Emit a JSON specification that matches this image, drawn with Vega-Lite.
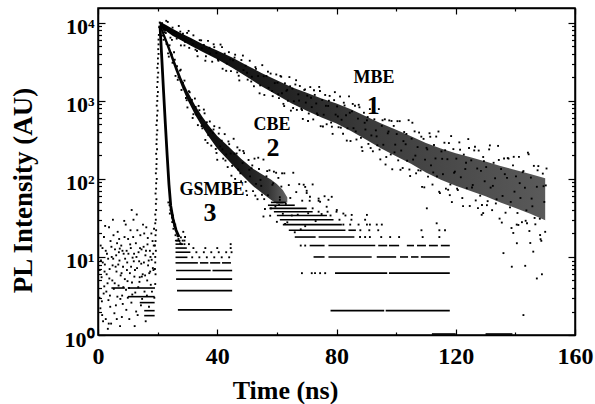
{
  "$schema": "https://vega.github.io/schema/vega-lite/v6.json",
  "width": 477,
  "height": 327,
  "autosize": "none",
  "padding": {"left": 98, "top": 8, "right": 20, "bottom": 69},
  "background": "white",
  "config": {
    "view": {"stroke": "black", "strokeWidth": 1.5},
    "axis": {"labelFont": "Liberation Serif", "labelFontWeight": "bold", "titleFont": "Liberation Serif", "titleFontWeight": "bold", "domainColor": "black", "tickColor": "black", "labelColor": "black", "titleColor": "black", "grid": false, "domainWidth": 1.5, "tickWidth": 1.2}
  },
  "datasets": {
    "band1": [{"t":20.8,"lo":8700,"hi":10300},{"t":23,"lo":7762,"hi":9333},{"t":25,"lo":6839,"hi":8414},{"t":28,"lo":5957,"hi":7328},{"t":31,"lo":5129,"hi":6457},{"t":35,"lo":4266,"hi":5370},{"t":40,"lo":3428,"hi":4416},{"t":45,"lo":2661,"hi":3589},{"t":50,"lo":2018,"hi":2851},{"t":55,"lo":1531,"hi":2265},{"t":60,"lo":1189,"hi":1841},{"t":65,"lo":923,"hi":1496},{"t":70,"lo":750,"hi":1274},{"t":75,"lo":614,"hi":1076},{"t":80,"lo":515,"hi":929},{"t":85,"lo":409,"hi":773},{"t":90,"lo":317,"hi":630},{"t":95,"lo":245,"hi":513},{"t":100,"lo":195,"hi":426},{"t":105,"lo":156,"hi":353},{"t":110,"lo":121,"hi":288},{"t":115,"lo":97.7,"hi":245},{"t":120,"lo":81.5,"hi":213},{"t":125,"lo":69.8,"hi":189},{"t":130,"lo":59.8,"hi":167},{"t":135,"lo":49.8,"hi":146},{"t":140,"lo":42.4,"hi":130},{"t":145,"lo":35.8,"hi":116},{"t":150,"lo":29.5,"hi":102}],
    "band2": [{"t":20.8,"lo":8700,"hi":10300},{"t":22,"lo":6457,"hi":7762},{"t":23.6,"lo":4416,"hi":5433},{"t":26,"lo":2455,"hi":3090},{"t":28,"lo":1549,"hi":1950},{"t":30,"lo":1035,"hi":1334},{"t":32.6,"lo":661,"hi":871},{"t":35,"lo":462,"hi":624},{"t":37,"lo":355,"hi":490},{"t":40,"lo":245,"hi":355},{"t":43.7,"lo":174,"hi":263},{"t":48,"lo":115,"hi":182},{"t":52,"lo":81,"hi":135},{"t":55,"lo":66,"hi":115},{"t":58,"lo":54,"hi":98},{"t":60,"lo":48,"hi":86},{"t":62,"lo":48,"hi":72},{"t":63.5,"lo":50,"hi":58}],
    "c3": [{"t":20.8,"v":9300},{"t":21.4,"v":3500},{"t":22.0,"v":1300},{"t":22.6,"v":500},{"t":23.2,"v":200},{"t":23.8,"v":85},{"t":24.4,"v":45},{"t":25.2,"v":30},{"t":26.2,"v":22},{"t":27.2,"v":18}],
    "labels": [{"t":92.6,"v":1970,"text":"MBE","kind":"name"},{"t":92.3,"v":860,"text":"1","kind":"num"},{"t":58.4,"v":490,"text":"CBE","kind":"name"},{"t":58.7,"v":250,"text":"2","kind":"num"},{"t":38.2,"v":72,"text":"GSMBE","kind":"name"},{"t":37.6,"v":37,"text":"3","kind":"num"}],
    "segs": [
      {"t":26.8,"t2":45,"v":2.1},{"t":26.5,"t2":45,"v":3.7},{"t":26.2,"t2":45,"v":5.2},{"t":26.2,"t2":37.8,"v":6.7},{"t":38.4,"t2":45,"v":6.7},
      {"t":26,"t2":33.5,"v":8.4},{"t":34.2,"t2":37,"v":8.4},{"t":37.6,"t2":41,"v":8.4},{"t":41.6,"t2":44.6,"v":8.4},
      {"t":26,"t2":30,"v":9.9},{"t":26,"t2":31,"v":11.5},{"t":26,"t2":29.8,"v":13},{"t":26,"t2":28.5,"v":14.6},{"t":25.8,"t2":27.6,"v":16.2},
      {"t":78,"t2":96,"v":2.05},{"t":96.5,"t2":118,"v":2.05},
      {"t":79.5,"t2":97,"v":6.2},{"t":97.6,"t2":118,"v":6.2},
      {"t":72.3,"t2":76,"v":10},{"t":77.3,"t2":91.8,"v":10},{"t":93.5,"t2":100,"v":10},{"t":101.3,"t2":104,"v":10},{"t":105,"t2":107.5,"v":10},{"t":108.3,"t2":118,"v":10},
      {"t":71,"t2":76,"v":14},{"t":77.3,"t2":93,"v":14},{"t":94,"t2":97,"v":14},{"t":97.6,"t2":101,"v":14},{"t":103.6,"t2":106,"v":14},{"t":107,"t2":110,"v":14},{"t":111,"t2":114,"v":14},{"t":115,"t2":118,"v":14},
      {"t":66,"t2":73,"v":18},{"t":74,"t2":86,"v":18},
      {"t":64,"t2":83,"v":22},{"t":84,"t2":86.5,"v":22},
      {"t":62,"t2":81.8,"v":26},{"t":61,"t2":79,"v":30},{"t":60,"t2":76.8,"v":34},{"t":59,"t2":72,"v":38},{"t":57.5,"t2":70,"v":42},{"t":57,"t2":66,"v":46},{"t":58,"t2":63,"v":50},
      {"t":4.5,"t2":9,"v":4.0},{"t":10,"t2":19.1,"v":4.0},{"t":10,"t2":19,"v":3.1},{"t":14,"t2":19,"v":2.6},{"t":15.5,"t2":19,"v":2.05},{"t":15.5,"t2":19,"v":1.77},
      {"t":112,"t2":120,"v":1.03},{"t":130,"t2":139,"v":1.03}
    ],
    "pts": [
      {"t":21.5,"v":9910},{"t":22.2,"v":7590},{"t":22.9,"v":10620},{"t":23.6,"v":7830},{"t":24.3,"v":6457},{"t":25.0,"v":8690},{"t":25.7,"v":7570},{"t":26.4,"v":6280},{"t":27.1,"v":9120},{"t":27.8,"v":5140},{"t":28.5,"v":7240},{"t":29.2,"v":5730},{"t":29.9,"v":7430},{"t":30.6,"v":4780},{"t":31.3,"v":6050},{"t":32.0,"v":6920},{"t":32.7,"v":4530},{"t":33.4,"v":3730},{"t":34.1,"v":6000},{"t":34.8,"v":4720},{"t":35.5,"v":5220},{"t":36.2,"v":3730},{"t":36.9,"v":5870},{"t":37.6,"v":4040},{"t":38.3,"v":3180},{"t":39.0,"v":4880},{"t":39.7,"v":4100},{"t":40.4,"v":3270},{"t":41.1,"v":5270},{"t":41.8,"v":2580},{"t":42.5,"v":4030},{"t":43.2,"v":3010},{"t":43.9,"v":4210},{"t":44.6,"v":2410},{"t":45.3,"v":3320},{"t":46.0,"v":3910},{"t":46.7,"v":2320},{"t":47.4,"v":1830},{"t":48.1,"v":3340},{"t":48.8,"v":2480},{"t":49.5,"v":2820},{"t":50.2,"v":1870},{"t":50.9,"v":3270},{"t":51.6,"v":2040},{"t":52.3,"v":1540},{"t":53.0,"v":2570},{"t":53.7,"v":2080},{"t":54.4,"v":1580},{"t":55.1,"v":2870},{"t":55.8,"v":1190},{"t":56.5,"v":2080},{"t":57.2,"v":1470},{"t":57.9,"v":2240},{"t":58.6,"v":1150},{"t":59.3,"v":1690},
      {"t":22.0,"v":8110},{"t":23.4,"v":10280},{"t":24.8,"v":6050},{"t":26.2,"v":7570},{"t":27.6,"v":7730},{"t":29.0,"v":5140},{"t":30.4,"v":7890},{"t":31.8,"v":5360},{"t":33.2,"v":4360},{"t":34.6,"v":5970},{"t":36.0,"v":3270},{"t":37.4,"v":4800},{"t":38.8,"v":5310},{"t":40.2,"v":3380},{"t":41.6,"v":4880},{"t":43.0,"v":2430},{"t":44.4,"v":3410},{"t":45.8,"v":3590},{"t":47.2,"v":2100},{"t":48.6,"v":3810},{"t":50.0,"v":2290},{"t":51.4,"v":1770},{"t":52.8,"v":2710},{"t":54.2,"v":1250},{"t":55.6,"v":2070},{"t":57.0,"v":2370},{"t":58.4,"v":1340},{"t":59.8,"v":2180},
      {"t":60.2,"v":1710},{"t":60.7,"v":1086},{"t":61.2,"v":2084},{"t":61.7,"v":1253},{"t":62.2,"v":916},{"t":62.7,"v":1679},{"t":63.2,"v":1346},{"t":63.7,"v":1005},{"t":64.2,"v":2018},{"t":64.7,"v":750},{"t":65.2,"v":1439},{"t":65.7,"v":989},{"t":66.2,"v":1622},{"t":66.7,"v":767},{"t":67.2,"v":1213},{"t":67.7,"v":1552},{"t":68.2,"v":789},{"t":68.7,"v":587},{"t":69.2,"v":1380},{"t":69.7,"v":951},
      {"t":70.2,"v":1167},{"t":70.7,"v":689},{"t":71.2,"v":1503},{"t":71.7,"v":832},{"t":72.2,"v":579},{"t":72.7,"v":1194},{"t":73.2,"v":927},{"t":73.7,"v":661},{"t":74.2,"v":1510},{"t":74.7,"v":474},{"t":75.2,"v":1028},{"t":75.7,"v":665},{"t":76.2,"v":1191},{"t":76.7,"v":502},{"t":77.2,"v":861},{"t":77.7,"v":1159},{"t":78.2,"v":528},{"t":78.7,"v":378},{"t":79.2,"v":1023},{"t":79.7,"v":667},
      {"t":80.2,"v":849},{"t":80.7,"v":460},{"t":81.2,"v":1138},{"t":81.7,"v":573},{"t":82.2,"v":379},{"t":82.7,"v":873},{"t":83.2,"v":655},{"t":83.7,"v":445},{"t":84.2,"v":1143},{"t":84.7,"v":306},{"t":85.2,"v":733},{"t":85.7,"v":447},{"t":86.2,"v":865},{"t":86.7,"v":320},{"t":87.2,"v":593},{"t":87.7,"v":828},{"t":88.2,"v":336},{"t":88.7,"v":228},{"t":89.2,"v":705},{"t":89.7,"v":430},
      {"t":90.2,"v":564},{"t":90.7,"v":281},{"t":91.2,"v":785},{"t":91.7,"v":361},{"t":92.2,"v":226},{"t":92.7,"v":581},{"t":93.2,"v":419},{"t":93.7,"v":270},{"t":94.2,"v":785},{"t":94.7,"v":178},{"t":95.2,"v":479},{"t":95.7,"v":274},{"t":96.2,"v":581},{"t":96.7,"v":191},{"t":97.2,"v":384},{"t":97.7,"v":562},{"t":98.2,"v":206},{"t":98.7,"v":133},{"t":99.2,"v":478},{"t":99.7,"v":275},
      {"t":100.2,"v":376},{"t":100.7,"v":173},{"t":101.2,"v":550},{"t":101.7,"v":231},{"t":102.2,"v":138},{"t":102.7,"v":399},{"t":103.2,"v":278},{"t":103.7,"v":171},{"t":104.2,"v":566},{"t":104.7,"v":109},{"t":105.2,"v":328},{"t":105.7,"v":177},{"t":106.2,"v":407},{"t":106.7,"v":118},{"t":107.2,"v":256},{"t":107.7,"v":393},{"t":108.2,"v":128},{"t":108.7,"v":79.1},{"t":109.2,"v":326},{"t":109.7,"v":177},
      {"t":110.2,"v":250},{"t":110.7,"v":107},{"t":111.2,"v":385},{"t":111.7,"v":149},{"t":112.2,"v":84.7},{"t":112.7,"v":272},{"t":113.2,"v":183},{"t":113.7,"v":108},{"t":114.2,"v":405},{"t":114.7,"v":65.9},{"t":115.2,"v":225},{"t":115.7,"v":115},{"t":116.2,"v":291},{"t":116.7,"v":75},{"t":117.2,"v":179},{"t":117.7,"v":288},{"t":118.2,"v":84.9},{"t":118.7,"v":50.5},{"t":119.2,"v":241},{"t":119.7,"v":124},
      {"t":120.2,"v":182},{"t":120.7,"v":72.1},{"t":121.2,"v":294},{"t":121.7,"v":105},{"t":122.2,"v":56.9},{"t":122.7,"v":205},{"t":123.2,"v":134},{"t":123.7,"v":76},{"t":124.2,"v":324},{"t":124.7,"v":45},{"t":125.2,"v":173},{"t":125.7,"v":83.6},{"t":126.2,"v":232},{"t":126.7,"v":53},{"t":127.2,"v":136},{"t":127.7,"v":231},{"t":128.2,"v":61},{"t":128.7,"v":34.7},{"t":129.2,"v":191},{"t":129.7,"v":93.3},
      {"t":130.2,"v":142},{"t":130.7,"v":51.9},{"t":131.2,"v":239},{"t":131.7,"v":77.4},{"t":132.2,"v":39.8},{"t":132.7,"v":161},{"t":133.2,"v":102},{"t":133.7,"v":54.8},{"t":134.2,"v":265},{"t":134.7,"v":31},{"t":135.2,"v":134},{"t":135.7,"v":60.5},{"t":136.2,"v":183},{"t":136.7,"v":36.9},{"t":137.2,"v":103},{"t":137.7,"v":182},{"t":138.2,"v":43.2},{"t":138.7,"v":23.5},{"t":139.2,"v":149},{"t":139.7,"v":68.7},
      {"t":140.2,"v":108},{"t":140.7,"v":36.6},{"t":141.2,"v":192},{"t":141.7,"v":57},{"t":142.2,"v":27.9},{"t":142.7,"v":126},{"t":143.2,"v":77.1},{"t":143.7,"v":39.5},{"t":144.2,"v":217},{"t":144.7,"v":21.5},{"t":145.2,"v":104},{"t":145.7,"v":44.6},{"t":146.2,"v":147},{"t":146.7,"v":26.2},{"t":147.2,"v":79.3},{"t":147.7,"v":146},{"t":148.2,"v":30.9},{"t":148.7,"v":16.1},{"t":149.2,"v":117},{"t":149.7,"v":50.7},{"t":150.2,"v":82.6},
      {"t":60.45,"v":1216},{"t":61.45,"v":2042},{"t":62.45,"v":859},{"t":63.45,"v":1384},{"t":64.45,"v":1538},{"t":65.45,"v":811},{"t":66.45,"v":1841},{"t":67.45,"v":1009},{"t":68.45,"v":762},{"t":69.45,"v":1406},{"t":70.45,"v":553},{"t":71.45,"v":1099},{"t":72.45,"v":1368},{"t":73.45,"v":692},{"t":74.45,"v":1337},{"t":75.45,"v":470},{"t":76.45,"v":865},{"t":77.45,"v":1005},{"t":78.45,"v":467},{"t":79.45,"v":1294},{"t":80.45,"v":632},{"t":81.45,"v":454},{"t":82.45,"v":948},{"t":83.45,"v":310},{"t":84.45,"v":705},{"t":85.45,"v":914},{"t":86.45,"v":406},{"t":87.45,"v":891},{"t":88.45,"v":255},{"t":89.45,"v":524},{"t":90.45,"v":621},{"t":91.45,"v":249},{"t":92.45,"v":818},{"t":93.45,"v":351},{"t":94.45,"v":238},{"t":95.45,"v":565},{"t":96.45,"v":153},{"t":97.45,"v":405},{"t":98.45,"v":553},{"t":99.45,"v":219},{"t":100.45,"v":550},{"t":101.45,"v":131},{"t":102.45,"v":305},{"t":103.45,"v":377},{"t":104.45,"v":132},{"t":105.45,"v":525},{"t":106.45,"v":199},{"t":107.45,"v":129},{"t":108.45,"v":348},{"t":109.45,"v":78},{"t":110.45,"v":239},{"t":111.45,"v":347},{"t":112.45,"v":121},{"t":113.45,"v":349},{"t":114.45,"v":68.4},{"t":115.45,"v":181},{"t":116.45,"v":233},{"t":117.45,"v":72.6},{"t":118.45,"v":354},{"t":119.45,"v":120},{"t":120.45,"v":75},{"t":121.45,"v":237},{"t":122.45,"v":44.9},{"t":123.45,"v":161},{"t":124.45,"v":249},{"t":125.45,"v":77.6},{"t":126.45,"v":258},{"t":127.45,"v":42.3},{"t":128.45,"v":127},{"t":129.45,"v":169},{"t":130.45,"v":46.1},{"t":131.45,"v":269},{"t":132.45,"v":81.5},{"t":133.45,"v":48.5},{"t":134.45,"v":175},{"t":135.45,"v":27.6},{"t":136.45,"v":115},{"t":137.45,"v":185},{"t":138.45,"v":50.7},{"t":139.45,"v":192},{"t":140.45,"v":26},{"t":141.45,"v":88.3},{"t":142.45,"v":122},{"t":143.45,"v":29.1},{"t":144.45,"v":207},{"t":145.45,"v":56},{"t":146.45,"v":31.6},{"t":147.45,"v":129},{"t":148.45,"v":16.9},{"t":149.45,"v":80.7},{"t":150.45,"v":136},
      {"t":110.3,"v":42},{"t":136,"v":11.2},{"t":138.8,"v":7.5},{"t":143.3,"v":7.7},{"t":147.2,"v":5.3},{"t":148.9,"v":6.0},{"t":142.7,"v":1.8},{"t":139.3,"v":20.3},{"t":140.5,"v":15},{"t":145,"v":15.1},{"t":146,"v":11.7},{"t":148.3,"v":19.1},{"t":150,"v":21},{"t":141,"v":25.7},{"t":143.9,"v":27},{"t":129.2,"v":36.5},{"t":128.8,"v":46.4},{"t":118,"v":62},
      {"t":21.5,"v":8750},{"t":22.0,"v":6070},{"t":22.5,"v":7930},{"t":23.0,"v":5350},{"t":23.5,"v":4060},{"t":24.0,"v":5160},{"t":24.5,"v":4090},{"t":25.0,"v":3080},{"t":25.5,"v":4200},{"t":26.0,"v":2090},{"t":26.5,"v":2780},{"t":27.0,"v":1995},{"t":27.5,"v":2440},{"t":28.0,"v":1380},{"t":28.5,"v":1700},{"t":29.0,"v":1820},{"t":29.5,"v":1090},{"t":30.0,"v":824},{"t":30.5,"v":1330},{"t":31.0,"v":962},{"t":31.5,"v":1030},{"t":32.0,"v":675},{"t":32.5,"v":1072},{"t":33.0,"v":667},{"t":33.5,"v":489},{"t":34.0,"v":760},{"t":34.5,"v":603},{"t":35.0,"v":445},{"t":35.5,"v":774},{"t":36.0,"v":316},{"t":36.5,"v":532},{"t":37.0,"v":365},{"t":37.5,"v":545},{"t":38.0,"v":267},{"t":38.5,"v":390},{"t":39.0,"v":474},{"t":39.5,"v":242},{"t":40.0,"v":176},{"t":40.5,"v":381},{"t":41.0,"v":261},{"t":41.5,"v":309},{"t":42.0,"v":182},{"t":42.5,"v":375},{"t":43.0,"v":206},{"t":43.5,"v":142},{"t":44.0,"v":279},{"t":44.5,"v":212},{"t":45.0,"v":147},{"t":45.5,"v":327},{"t":46.0,"v":100},{"t":46.5,"v":212},{"t":47.0,"v":132},{"t":47.5,"v":233},{"t":48.0,"v":93.3},{"t":48.5,"v":160},{"t":49.0,"v":214},{"t":49.5,"v":91.6},{"t":50.0,"v":62.1},{"t":50.5,"v":175},{"t":51.0,"v":108},{"t":51.5,"v":137},{"t":52.0,"v":69.8},{"t":52.5,"v":182},{"t":53.0,"v":86.3},{"t":53.5,"v":55},{"t":54.0,"v":134},{"t":54.5,"v":97.3},{"t":55.0,"v":62.8},{"t":55.5,"v":177},{"t":56.0,"v":41.2},{"t":56.5,"v":108},{"t":57.0,"v":61.7},{"t":57.5,"v":129},{"t":58.0,"v":41.9},{"t":58.5,"v":84.1},{"t":59.0,"v":124},{"t":59.5,"v":44.2},{"t":60.0,"v":28.2},{"t":60.5,"v":103},{"t":61.0,"v":58.3},{"t":61.5,"v":79.8},{"t":62.0,"v":35.8},{"t":62.5,"v":118},{"t":63.0,"v":47.8},{"t":63.5,"v":27.8},{"t":64.0,"v":83.4},{"t":64.5,"v":57},{"t":65.0,"v":34},{"t":65.5,"v":120},{"t":66.0,"v":20.7},{"t":66.5,"v":67.8},{"t":67.0,"v":34.8},{"t":67.5,"v":85.7},{"t":68.0,"v":22.6},{"t":68.5,"v":52.6},{"t":69.0,"v":84.3},{"t":69.5,"v":24.8},{"t":70.0,"v":70.5},{"t":70.5,"v":36.3},{"t":71.0,"v":52.5},{"t":72.0,"v":85},{"t":73.0,"v":28.8},{"t":74.0,"v":52.5},{"t":75.0,"v":35.5},{"t":76.0,"v":60},
      {"t":21.75,"v":6870},{"t":22.75,"v":7410},{"t":23.75,"v":3690},{"t":24.75,"v":3930},{"t":25.75,"v":3370},{"t":26.75,"v":1860},{"t":27.75,"v":2510},{"t":28.75,"v":1445},{"t":29.75,"v":1020},{"t":30.75,"v":1290},{"t":31.75,"v":604},{"t":32.75,"v":837},{"t":33.75,"v":863},{"t":34.75,"v":476},{"t":35.75,"v":693},{"t":36.75,"v":289},{"t":37.75,"v":417},{"t":38.75,"v":430},{"t":39.75,"v":215},{"t":40.75,"v":452},{"t":41.75,"v":239},{"t":42.75,"v":172},{"t":43.75,"v":302},{"t":44.75,"v":110},{"t":45.75,"v":211},{"t":46.75,"v":254},{"t":47.75,"v":118},{"t":48.75,"v":228},{"t":49.75,"v":70.3},{"t":50.75,"v":131},{"t":51.75,"v":149},{"t":52.75,"v":61.1},{"t":53.75,"v":187},{"t":54.75,"v":81.5},{"t":55.75,"v":55.1},{"t":56.75,"v":126},{"t":57.75,"v":33.8},{"t":58.75,"v":88.1},{"t":59.75,"v":120},{"t":60.75,"v":46.3},{"t":61.75,"v":118},{"t":62.75,"v":26.5},
      {"t":55.5,"v":33},{"t":61,"v":54},{"t":71.1,"v":59},{"t":74.5,"v":51},{"t":76.7,"v":44},{"t":78.4,"v":59},{"t":80.1,"v":40},{"t":70,"v":66},{"t":74,"v":56},{"t":77.3,"v":54},{"t":69.5,"v":79},{"t":90.2,"v":34.6},{"t":85.1,"v":34.6},{"t":82.3,"v":36},{"t":113.6,"v":27},{"t":116.4,"v":22},
      {"t":68.4,"v":6.2},{"t":71.7,"v":6.2},{"t":72.8,"v":6.2},{"t":74.5,"v":6.2},{"t":76.2,"v":6.2},{"t":68,"v":14},{"t":69.5,"v":14},
      {"t":87.9,"v":18},{"t":89.6,"v":18},{"t":91.2,"v":18},{"t":95,"v":18},{"t":98,"v":18},{"t":101,"v":18},{"t":108.9,"v":18},{"t":114.5,"v":18},
      {"t":88,"v":22},{"t":91,"v":22},{"t":94,"v":22},{"t":108.5,"v":22},{"t":114.5,"v":22},
      {"t":82.3,"v":26},{"t":84.6,"v":26},{"t":87.4,"v":26},{"t":90.2,"v":26},{"t":91.2,"v":26},{"t":93.5,"v":26},{"t":95.2,"v":26},
      {"t":81,"v":30},{"t":85,"v":30},{"t":89.6,"v":30},{"t":78,"v":34},{"t":83,"v":34},{"t":74,"v":38},{"t":77,"v":38},{"t":80,"v":38},{"t":72,"v":42},
      {"t":31.6,"v":9.9},{"t":34,"v":9.9},{"t":36.5,"v":9.9},{"t":39,"v":9.9},{"t":41.5,"v":9.9},{"t":44,"v":9.9},{"t":33,"v":11.5},{"t":35.5,"v":11.5},{"t":38,"v":11.5},{"t":40.5,"v":11.5},{"t":43,"v":11.5},{"t":44.8,"v":11.5},{"t":32,"v":13},{"t":36,"v":13},{"t":40,"v":13},{"t":44.5,"v":13},{"t":44.5,"v":14.6},{"t":30.5,"v":14.6},{"t":29,"v":16.2},
      {"t":23.6,"v":50},{"t":24.0,"v":46},{"t":24.3,"v":40},{"t":24.1,"v":36},{"t":24.6,"v":38},{"t":24.8,"v":32},{"t":25.1,"v":34},{"t":24.9,"v":28},{"t":25.4,"v":29},{"t":25.6,"v":25},{"t":25.3,"v":23},{"t":25.9,"v":26},{"t":26.1,"v":22},{"t":26.4,"v":20},{"t":26.0,"v":19},{"t":26.7,"v":18.5},{"t":27.0,"v":17},{"t":26.5,"v":16.2},{"t":27.3,"v":16},{"t":27.6,"v":15},{"t":28.0,"v":14.6},{"t":28.4,"v":16.2},{"t":29.0,"v":14.6},{"t":27.8,"v":17.8},{"t":28.6,"v":21},{"t":29.2,"v":18},
      {"t":19.2,"v":4.5},{"t":19.3,"v":6},{"t":19.2,"v":8.5},{"t":19.4,"v":12},{"t":19.3,"v":16},{"t":19.5,"v":22},{"t":19.4,"v":30},{"t":19.2,"v":27},{"t":19.5,"v":40},{"t":19.6,"v":55},{"t":19.5,"v":75},{"t":19.7,"v":100},{"t":19.6,"v":135},{"t":19.7,"v":180},{"t":19.8,"v":240},{"t":19.7,"v":320},{"t":19.9,"v":420},{"t":19.8,"v":560},{"t":20.0,"v":750},{"t":19.9,"v":1000},{"t":20.1,"v":1300},{"t":20.0,"v":1750},{"t":20.2,"v":2300},{"t":20.1,"v":3000},{"t":20.3,"v":4000},{"t":20.3,"v":5300},{"t":20.4,"v":7000},{"t":20.5,"v":8800},
      {"t":19.1,"v":7},{"t":19.2,"v":10},{"t":19.1,"v":14},{"t":19.3,"v":19},{"t":19.2,"v":35},{"t":19.4,"v":48},{"t":19.3,"v":65},{"t":19.5,"v":88},{"t":19.4,"v":118},{"t":19.6,"v":155},{"t":19.5,"v":210},{"t":19.6,"v":280},{"t":19.7,"v":370},{"t":19.6,"v":490},{"t":19.8,"v":650},{"t":19.7,"v":870},{"t":19.9,"v":1150},{"t":19.8,"v":1500},{"t":20.0,"v":2000},{"t":19.9,"v":2650},{"t":20.1,"v":3500},{"t":20.2,"v":4600},{"t":20.3,"v":6100},{"t":20.7,"v":10100},{"t":20.9,"v":9800},
      {"t":0.8,"v":2.2},{"t":1.2,"v":5.5},{"t":1.5,"v":13},{"t":1.9,"v":3.4},{"t":2.3,"v":8},{"t":2.6,"v":1.6},{"t":3.0,"v":11},{"t":3.2,"v":4.6},{"t":3.5,"v":2.8},{"t":3.9,"v":7},{"t":4.2,"v":16},{"t":4.4,"v":1.4},{"t":4.8,"v":5},{"t":5.1,"v":9.5},{"t":5.3,"v":3.9},{"t":5.7,"v":12.5},{"t":6.0,"v":2.4},{"t":6.2,"v":6.5},{"t":6.6,"v":21},{"t":6.9,"v":4.3},{"t":7.2,"v":9},{"t":7.4,"v":1.3},{"t":7.8,"v":14},{"t":8.1,"v":3.2},{"t":8.4,"v":7.5},{"t":8.6,"v":11},{"t":9.0,"v":5.2},{"t":9.3,"v":26},{"t":9.5,"v":2.1},{"t":9.8,"v":8.5},{"t":10.1,"v":17},{"t":10.4,"v":4},{"t":10.7,"v":6.2},{"t":11.0,"v":13},{"t":11.2,"v":2.6},{"t":11.6,"v":9.8},{"t":11.9,"v":30},{"t":12.2,"v":5.6},{"t":12.5,"v":3.5},{"t":12.7,"v":15},{"t":13.1,"v":7.2},{"t":13.3,"v":1.8},{"t":13.6,"v":11.5},{"t":13.9,"v":4.8},{"t":14.2,"v":19},{"t":14.5,"v":8.2},{"t":14.8,"v":2.9},{"t":15.0,"v":6},{"t":15.3,"v":13.5},{"t":15.6,"v":3.6},{"t":15.9,"v":10.5},{"t":16.2,"v":24},{"t":16.5,"v":5},{"t":16.8,"v":7.8},{"t":17.1,"v":2.3},{"t":17.4,"v":12},{"t":17.7,"v":4.4},{"t":18.0,"v":9.2},{"t":18.3,"v":16},{"t":18.6,"v":6.8},{"t":18.9,"v":3},
      {"t":1.0,"v":9},{"t":2.0,"v":18},{"t":2.9,"v":6},{"t":3.7,"v":24},{"t":4.6,"v":10},{"t":5.5,"v":1.9},{"t":6.4,"v":15},{"t":13.0,"v":35},{"t":7.6,"v":5.8},{"t":8.9,"v":18},{"t":10.0,"v":3},{"t":10.9,"v":22},{"t":12.0,"v":8.8},{"t":12.9,"v":10},{"t":14.0,"v":5.5},{"t":15.5,"v":20},{"t":16.0,"v":1.5},{"t":17.0,"v":9},{"t":17.9,"v":20},{"t":18.5,"v":11},{"t":0.5,"v":3},{"t":1.7,"v":1.5},{"t":2.6,"v":12},{"t":3.3,"v":1.2},{"t":5.9,"v":7.5},{"t":7.0,"v":11.5},{"t":8.3,"v":2.5},{"t":9.6,"v":12},{"t":11.4,"v":4.7},{"t":14.6,"v":12.5},{"t":16.6,"v":14.5},{"t":17.5,"v":6.5},
      {"t":0.6,"v":6.8},{"t":0.9,"v":14},{"t":1.3,"v":2.7},{"t":1.6,"v":8.5},{"t":2.1,"v":4.2},{"t":2.4,"v":25},{"t":2.8,"v":3.6},{"t":3.4,"v":9.5},{"t":3.8,"v":5.3},{"t":4.1,"v":2.3},{"t":4.5,"v":13.5},{"t":4.9,"v":7.8},{"t":5.2,"v":19},{"t":5.6,"v":4.6},{"t":6.1,"v":10.5},{"t":6.5,"v":3.1},{"t":6.8,"v":8},{"t":7.1,"v":17},{"t":7.5,"v":2.9},{"t":7.9,"v":6.2},{"t":8.2,"v":12},{"t":8.5,"v":4.1},{"t":8.8,"v":29},{"t":9.1,"v":9.5},{"t":9.4,"v":3.8},{"t":9.7,"v":6.8},{"t":10.2,"v":11},{"t":10.5,"v":1.6},{"t":10.8,"v":14.5},{"t":11.1,"v":7.5},{"t":11.5,"v":3.3},{"t":11.8,"v":18},{"t":12.1,"v":11},{"t":12.4,"v":6.8},{"t":12.8,"v":2},{"t":13.2,"v":22},{"t":13.5,"v":4.1},{"t":13.8,"v":8.8},{"t":14.1,"v":13},{"t":14.4,"v":2.4},{"t":14.7,"v":5.6},{"t":15.1,"v":26},{"t":15.4,"v":8.5},{"t":15.8,"v":5.8},{"t":16.1,"v":12},{"t":16.4,"v":3.2},{"t":16.7,"v":17.5},{"t":17.2,"v":6.2},{"t":17.6,"v":10},{"t":18.1,"v":3.6},{"t":18.4,"v":7.2},{"t":18.7,"v":14},{"t":18.8,"v":23},{"t":5.0,"v":30},{"t":11.3,"v":40},{"t":1.4,"v":1.8},{"t":3.6,"v":1.4},{"t":8.0,"v":1.7},{"t":12.3,"v":1.3},{"t":9.9,"v":4.9},{"t":7.3,"v":12.8},{"t":2.2,"v":6.5},{"t":4.0,"v":3.2},{"t":6.3,"v":1.6}
    ]
  },
  "layer": [
    {
      "data": {"name": "band1"},
      "mark": {"type": "area", "color": {"gradient": "linear", "x1": 0, "y1": 0, "x2": 1, "y2": 0, "stops": [{"offset": 0, "color": "#000000"}, {"offset": 0.25, "color": "#1a1a1a"}, {"offset": 0.55, "color": "#3c3c3c"}, {"offset": 1, "color": "#5a5a5a"}]}},
      "encoding": {
        "x": {"field": "t", "type": "quantitative", "scale": {"domain": [0, 160], "nice": false}, "axis": null},
        "y": {"field": "lo", "type": "quantitative", "scale": {"type": "log", "domain": [1, 15500], "nice": false}, "axis": null},
        "y2": {"field": "hi"}
      }
    },
    {
      "data": {"name": "band2"},
      "mark": {"type": "area", "color": {"gradient": "linear", "x1": 0, "y1": 0, "x2": 1, "y2": 0, "stops": [{"offset": 0, "color": "#000000"}, {"offset": 0.6, "color": "#151515"}, {"offset": 0.85, "color": "#333333"}, {"offset": 1, "color": "#666666"}]}},
      "encoding": {
        "x": {"field": "t", "type": "quantitative", "scale": {"domain": [0, 160], "nice": false}, "axis": null},
        "y": {"field": "lo", "type": "quantitative", "scale": {"type": "log", "domain": [1, 15500], "nice": false}, "axis": null},
        "y2": {"field": "hi"}
      }
    },
    {
      "data": {"name": "c3"},
      "mark": {"type": "line", "color": "black", "strokeWidth": 2.8},
      "encoding": {
        "x": {"field": "t", "type": "quantitative", "scale": {"domain": [0, 160], "nice": false}, "axis": null},
        "y": {"field": "v", "type": "quantitative", "scale": {"type": "log", "domain": [1, 15500], "nice": false}, "axis": null}
      }
    },
    {
      "data": {"name": "segs"},
      "mark": {"type": "rule", "color": "black", "strokeWidth": 1.6},
      "encoding": {
        "x": {"field": "t", "type": "quantitative", "scale": {"domain": [0, 160], "nice": false},
          "axis": {"orient": "top", "values": [0,20,40,60,80,100,120,140,160], "labels": false, "title": null, "tickSize": {"condition": {"test": "datum.value % 40 === 0", "value": -6}, "value": -3}}},
        "x2": {"field": "t2"},
        "y": {"field": "v", "type": "quantitative", "scale": {"type": "log", "domain": [1, 15500], "nice": false},
          "axis": {"orient": "right", "values": [1,2,3,4,5,6,7,8,9,10,20,30,40,50,60,70,80,90,100,200,300,400,500,600,700,800,900,1000,2000,3000,4000,5000,6000,7000,8000,9000,10000], "labels": false, "title": null, "tickSize": {"condition": {"test": "indexof([1,10,100,1000,10000], datum.value) >= 0", "value": -7}, "value": -3.5}}}
      }
    },
    {
      "data": {"name": "pts"},
      "mark": {"type": "point", "shape": "square", "filled": true, "color": "black", "size": 3.5, "opacity": 1},
      "encoding": {
        "x": {"field": "t", "type": "quantitative", "scale": {"domain": [0, 160], "nice": false},
          "axis": {"orient": "bottom", "values": [0,20,40,60,80,100,120,140,160], "labelExpr": "datum.value % 40 === 0 ? datum.label : ''", "tickSize": {"condition": {"test": "datum.value % 40 === 0", "value": -6}, "value": -3}, "labelPadding": 15, "labelFontSize": 24, "labelFlush": false, "labelOverlap": false, "title": "Time (ns)", "titleFontSize": 26, "titleX": 187, "titleY": 63, "titleAlign": "center", "titleBaseline": "alphabetic"}},
        "y": {"field": "v", "type": "quantitative", "scale": {"type": "log", "domain": [1, 15500], "nice": false},
          "axis": {"orient": "left", "values": [1,2,3,4,5,6,7,8,9,10,20,30,40,50,60,70,80,90,100,200,300,400,500,600,700,800,900,1000,2000,3000,4000,5000,6000,7000,8000,9000,10000], "labelExpr": "datum.value === 1 ? '10⁰' : datum.value === 10 ? '10¹' : datum.value === 100 ? '10²' : datum.value === 1000 ? '10³' : datum.value === 10000 ? '10⁴' : ''", "tickSize": {"condition": {"test": "indexof([1,10,100,1000,10000], datum.value) >= 0", "value": -7}, "value": -3.5}, "labelPadding": 11, "labelFontSize": 22, "labelOffset": 4, "labelOverlap": false, "labelFlush": false, "title": "PL Intensity (AU)", "titleFontSize": 27, "titleX": -75, "titleY": 182, "titleAngle": -90, "titleAlign": "center", "titleBaseline": "middle"}}
      }
    },
    {
      "data": {"name": "labels"},
      "transform": [{"filter": "datum.kind === 'name'"}],
      "mark": {"type": "text", "font": "Liberation Serif", "fontWeight": "bold", "fontSize": 18, "color": "black", "align": "center", "baseline": "middle"},
      "encoding": {
        "x": {"field": "t", "type": "quantitative", "scale": {"domain": [0, 160], "nice": false}, "axis": null},
        "y": {"field": "v", "type": "quantitative", "scale": {"type": "log", "domain": [1, 15500], "nice": false}, "axis": null},
        "text": {"field": "text"}
      }
    },
    {
      "data": {"name": "labels"},
      "transform": [{"filter": "datum.kind === 'num'"}],
      "mark": {"type": "text", "font": "Liberation Serif", "fontWeight": "bold", "fontSize": 26, "color": "black", "align": "center", "baseline": "middle"},
      "encoding": {
        "x": {"field": "t", "type": "quantitative", "scale": {"domain": [0, 160], "nice": false}, "axis": null},
        "y": {"field": "v", "type": "quantitative", "scale": {"type": "log", "domain": [1, 15500], "nice": false}, "axis": null},
        "text": {"field": "text"}
      }
    }
  ],
  "resolve": {"axis": {"x": "independent", "y": "independent"}}
}
